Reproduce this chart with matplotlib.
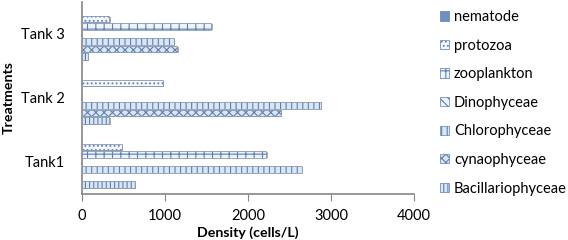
import matplotlib
matplotlib.use("Agg")
import matplotlib.pyplot as plt
import numpy as np
from matplotlib.patches import Patch

plt.rcParams['font.family'] = ['Lato', 'DejaVu Sans']
plt.rcParams['hatch.linewidth'] = 0.8

categories = ["Tank1", "Tank 2", "Tank 3"]
series = ["Bacillariophyceae", "cynaophyceae", "Chlorophyceae", "Dinophyceae",
          "zooplankton", "protozoa", "nematode"]
Bacillariophyceae = [640, 330, 75]
cynaophyceae = [0, 2400, 1150]
Chlorophyceae = [2650, 2880, 1110]
Dinophyceae = [0, 0, 0]
zooplankton = [2220, 0, 1560]
protozoa = [480, 970, 330]
nematode = [0, 0, 0]
values = [Bacillariophyceae, cynaophyceae, Chlorophyceae, Dinophyceae,
          zooplankton, protozoa, nematode]
xticks = [0, 1000, 2000, 3000, 4000]

faces = ["#dbe6f4", "#dbe6f4", "#dbe6f4", "#eef3fa", "#eef3fa", "#f4f7fc", "#6f8fc0"]
hatches = ["||||", "xxxx", "|||", "\\\\\\\\", "++", "....", ""]
hcol = "#5b7fb5"

fig = plt.figure(figsize=(5.68, 2.4), dpi=100)
ax = fig.add_axes([0.1444, 0.1917, 0.5845, 0.8])

n = len(series)
h = 1.0 / (n + 1.5)
y = np.arange(len(categories))
handles = []
for i, (name, vals) in enumerate(zip(series, values)):
    pos = y + (i - (n - 1) / 2) * h
    ax.barh(pos - 0.012, vals, height=h * 0.85, left=15, color="#b0b0b0",
            edgecolor="none", zorder=1)
    ax.barh(pos, vals, height=h * 0.85, color=faces[i], hatch=hatches[i],
            edgecolor=hcol, linewidth=0.0, zorder=2)
    ax.barh(pos, vals, height=h * 0.85, color="none",
            edgecolor="#8a9ab0", linewidth=0.6, zorder=3)
    handles.append(Patch(facecolor=faces[i], hatch=hatches[i], edgecolor=hcol,
                         linewidth=0.5, label=name))

ax.set_xlim(0, 4000)
ax.set_ylim(-0.5, len(categories) - 0.5)
ax.set_xticks(xticks)
ax.set_xticklabels([str(t) for t in xticks], fontsize=10.5)
ax.set_yticks(y)
ax.set_yticklabels(categories, fontsize=10.5)
ax.tick_params(axis='y', length=0, pad=12)
ax.tick_params(axis='x', length=5, color="#868686", direction='out', pad=6)
for s in ["top", "right"]:
    ax.spines[s].set_visible(False)
for s in ["left", "bottom"]:
    ax.spines[s].set_color("#868686")
    ax.spines[s].set_linewidth(1.2)

ax.set_xlabel("Density (cells/L)", fontsize=10.2, fontweight="bold", labelpad=2.5)
ax.set_ylabel("Treatments", fontsize=10.2, fontweight="bold", labelpad=5)

leg = fig.legend(handles=handles[::-1], loc="upper left",
                 bbox_to_anchor=(0.775, 0.958), frameon=False, fontsize=10.5,
                 handlelength=0.6, handleheight=0.6, handletextpad=0.35,
                 labelspacing=1.0, borderaxespad=0.0, borderpad=0.0)

fig.savefig("out.png", dpi=100)
